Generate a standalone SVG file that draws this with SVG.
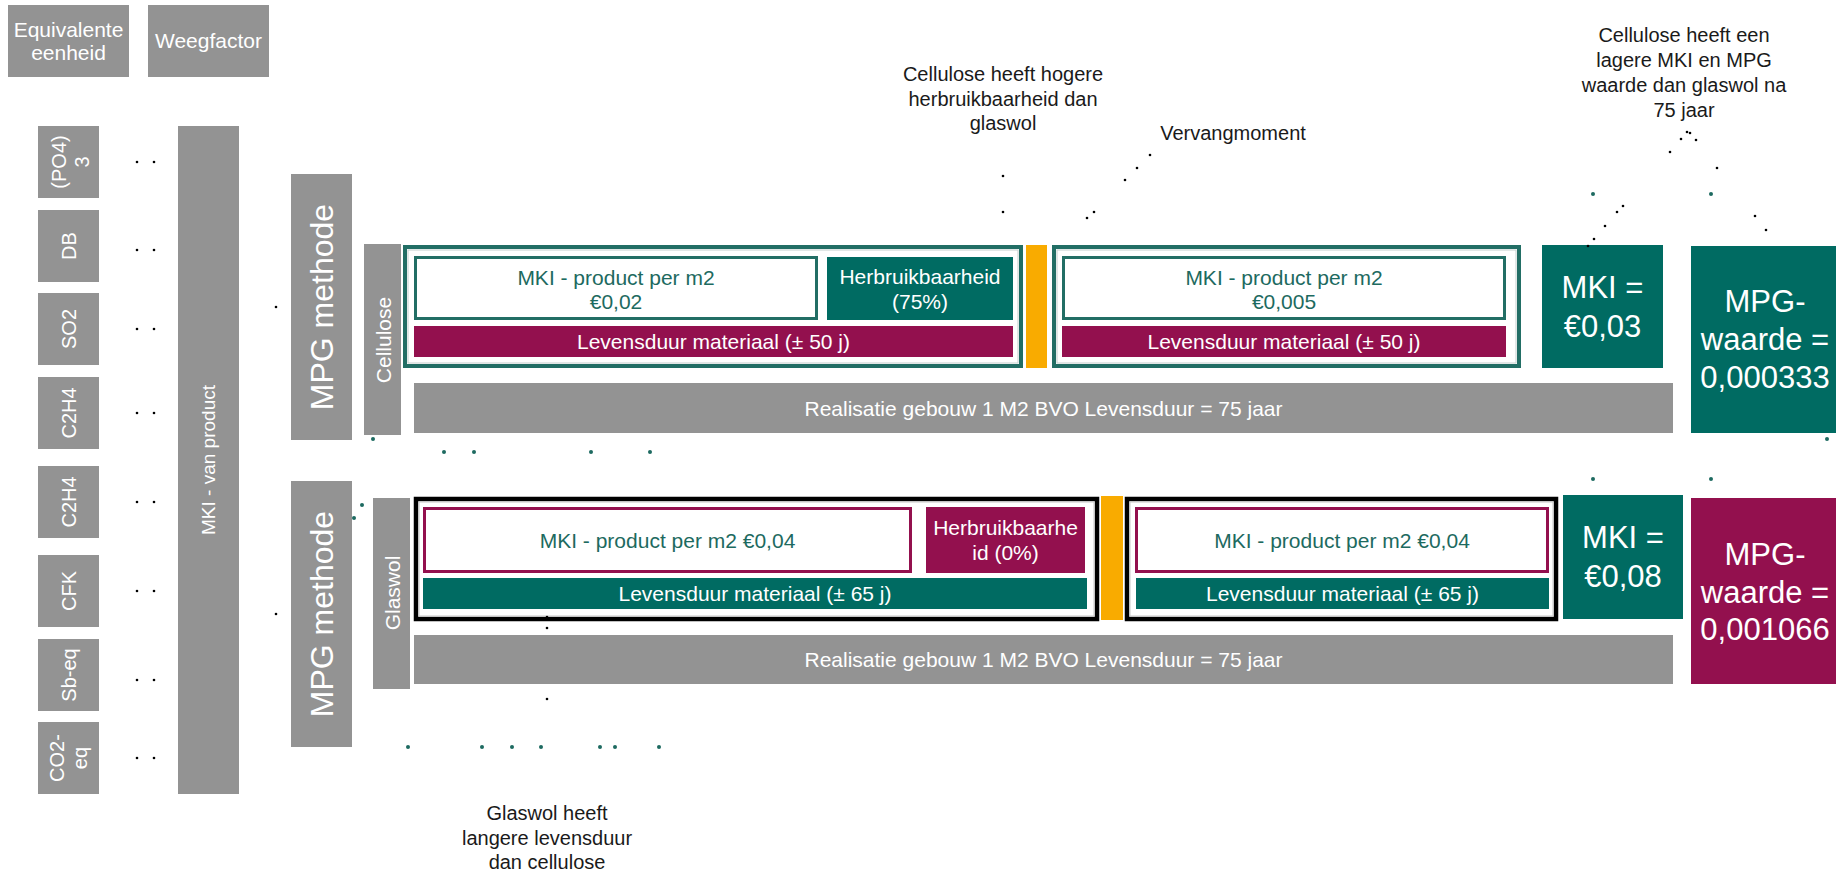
<svg xmlns="http://www.w3.org/2000/svg" width="1836" height="874" viewBox="0 0 1836 874">
<style>
.g{fill:#939393}
.teal{fill:#006b62}
.purp{fill:#93104e}
.org{fill:#f9ab00}
text{font-family:"Liberation Sans",Arial,sans-serif;text-anchor:middle}
.w{fill:#fff;font-size:21px}
.w20{fill:#fff;font-size:20px}
.wb{fill:#fff;font-size:31px}
.wm{fill:#fff;font-size:32px}
.tt{fill:#1d6a60;font-size:21px}
.bt{fill:#1a1a1a;font-size:20px}
.ft{fill:none;stroke:#226e65;stroke-width:4}
.fb{fill:none;stroke:#000;stroke-width:4.5}
.fin{fill:none;stroke:#c4cfcd;stroke-width:1}
.bt3{fill:#fff;stroke:#226e65;stroke-width:3}
.bp3{fill:#fff;stroke:#93104e;stroke-width:3}
.d{fill:#000}
.dt{fill:#1d6a60}
</style>
<rect width="1836" height="874" fill="#fff"/>

<g id="header-equivalente">
<rect class="g" x="8" y="5" width="121" height="72"/>
<text class="w" x="68.5" y="37">Equivalente</text>
<text class="w" x="68.5" y="60">eenheid</text>
</g>
<g id="header-weegfactor">
<rect class="g" x="148" y="5" width="121" height="72"/>
<text class="w" x="208.5" y="48">Weegfactor</text>
</g>

<g id="eq-po4">
<rect class="g" x="38" y="126" width="61" height="72"/>
<text class="w20" dominant-baseline="central" transform="translate(59,162) rotate(-90)">(PO4)</text>
<text class="w20" dominant-baseline="central" transform="translate(82,162) rotate(-90)">3</text>
</g>
<g id="eq-db">
<rect class="g" x="38" y="210" width="61" height="72"/>
<text class="w20" dominant-baseline="central" transform="translate(68.5,246) rotate(-90)">DB</text>
</g>
<g id="eq-so2">
<rect class="g" x="38" y="293" width="61" height="72"/>
<text class="w20" dominant-baseline="central" transform="translate(68.5,329) rotate(-90)">SO2</text>
</g>
<g id="eq-c2h4a">
<rect class="g" x="38" y="377" width="61" height="72"/>
<text class="w20" dominant-baseline="central" transform="translate(68.5,413) rotate(-90)">C2H4</text>
</g>
<g id="eq-c2h4b">
<rect class="g" x="38" y="466" width="61" height="72"/>
<text class="w20" dominant-baseline="central" transform="translate(68.5,502) rotate(-90)">C2H4</text>
</g>
<g id="eq-cfk">
<rect class="g" x="38" y="555" width="61" height="72"/>
<text class="w20" dominant-baseline="central" transform="translate(68.5,591) rotate(-90)">CFK</text>
</g>
<g id="eq-sb">
<rect class="g" x="38" y="639" width="61" height="72"/>
<text class="w20" dominant-baseline="central" transform="translate(68.5,675) rotate(-90)">Sb-eq</text>
</g>
<g id="eq-co2">
<rect class="g" x="38" y="722" width="61" height="72"/>
<text class="w20" dominant-baseline="central" transform="translate(57,758) rotate(-90)">CO2-</text>
<text class="w20" dominant-baseline="central" transform="translate(80,758) rotate(-90)">eq</text>
</g>

<g id="mki-van-product">
<rect class="g" x="178" y="126" width="61" height="668"/>
<text class="w20" font-size="19" dominant-baseline="central" transform="translate(208.5,460) rotate(-90)" style="font-size:19px">MKI - van product</text>
</g>

<g id="mpg-methode-1">
<rect class="g" x="291" y="174" width="61" height="266"/>
<text class="wm" dominant-baseline="central" transform="translate(322,307) rotate(-90)">MPG methode</text>
</g>
<g id="mpg-methode-2">
<rect class="g" x="291" y="481" width="61" height="266"/>
<text class="wm" dominant-baseline="central" transform="translate(322,614) rotate(-90)">MPG methode</text>
</g>

<g id="label-cellulose">
<rect class="g" x="364" y="244" width="37" height="191"/>
<text class="w" dominant-baseline="central" transform="translate(383,340) rotate(-90)">Cellulose</text>
</g>
<g id="label-glaswol">
<rect class="g" x="373" y="498" width="37" height="191"/>
<text class="w" dominant-baseline="central" transform="translate(392,593) rotate(-90)">Glaswol</text>
</g>

<g id="cellulose-fase1">
<rect class="ft" x="405" y="247" width="616" height="119"/>
<rect class="fin" x="408" y="250" width="610" height="113"/>
<rect class="bt3" x="415.5" y="257.5" width="401" height="61"/>
<text class="tt" x="616" y="285">MKI - product per m2</text>
<text class="tt" x="616" y="309">€0,02</text>
<rect class="teal" x="827" y="257" width="186" height="63"/>
<text class="w" x="920" y="284">Herbruikbaarheid</text>
<text class="w" x="920" y="309">(75%)</text>
<rect class="purp" x="414" y="326" width="599" height="31"/>
<text class="w" x="713.5" y="349">Levensduur materiaal (± 50 j)</text>
</g>
<g id="vervang-cellulose">
<rect class="org" x="1026" y="245" width="21" height="123"/>
</g>
<g id="cellulose-fase2">
<rect class="ft" x="1054" y="247" width="465" height="119"/>
<rect class="fin" x="1057" y="250" width="459" height="113"/>
<rect class="bt3" x="1063.5" y="257.5" width="441" height="61"/>
<text class="tt" x="1284" y="285">MKI - product per m2</text>
<text class="tt" x="1284" y="309">€0,005</text>
<rect class="purp" x="1062" y="326" width="444" height="31"/>
<text class="w" x="1284" y="349">Levensduur materiaal (± 50 j)</text>
</g>
<g id="realisatie-cellulose">
<rect class="g" x="414" y="383" width="1259" height="50"/>
<text class="w" x="1043.5" y="415.5">Realisatie gebouw 1 M2 BVO Levensduur = 75 jaar</text>
</g>
<g id="mki-cellulose">
<rect class="teal" x="1542" y="245" width="121" height="123"/>
<text class="wb" x="1602.5" y="298">MKI =</text>
<text class="wb" x="1602.5" y="337">€0,03</text>
</g>
<g id="mpg-cellulose">
<rect class="teal" x="1691" y="246" width="150" height="187"/>
<text class="wb" x="1765" y="312">MPG-</text>
<text class="wb" x="1765" y="350">waarde =</text>
<text class="wb" x="1765" y="388">0,000333</text>
</g>

<g id="glaswol-fase1">
<rect class="fb" x="416" y="499" width="681" height="120"/>
<rect class="fin" x="419" y="502" width="675" height="114" style="stroke:#c8c8c8"/>
<rect class="bp3" x="424.5" y="508.5" width="486" height="63"/>
<text class="tt" x="667.5" y="548">MKI - product per m2 €0,04</text>
<rect class="purp" x="926" y="507" width="159" height="66"/>
<text class="w" x="1005.5" y="535">Herbruikbaarhe</text>
<text class="w" x="1005.5" y="560">id (0%)</text>
<rect class="teal" x="423" y="578" width="664" height="31"/>
<text class="w" x="755" y="601">Levensduur materiaal (± 65 j)</text>
</g>
<g id="vervang-glaswol">
<rect class="org" x="1101" y="496" width="22" height="124"/>
</g>
<g id="glaswol-fase2">
<rect class="fb" x="1127" y="499" width="429" height="120"/>
<rect class="fin" x="1130" y="502" width="423" height="114" style="stroke:#c8c8c8"/>
<rect class="bp3" x="1136.5" y="508.5" width="411" height="63"/>
<text class="tt" x="1342" y="548">MKI - product per m2 €0,04</text>
<rect class="teal" x="1136" y="578" width="413" height="31"/>
<text class="w" x="1342.5" y="601">Levensduur materiaal (± 65 j)</text>
</g>
<g id="realisatie-glaswol">
<rect class="g" x="414" y="635" width="1259" height="49"/>
<text class="w" x="1043.5" y="667">Realisatie gebouw 1 M2 BVO Levensduur = 75 jaar</text>
</g>
<g id="mki-glaswol">
<rect class="teal" x="1563" y="495" width="120" height="124"/>
<text class="wb" x="1623" y="548">MKI =</text>
<text class="wb" x="1623" y="587">€0,08</text>
</g>
<g id="mpg-glaswol">
<rect class="purp" x="1691" y="498" width="150" height="186"/>
<text class="wb" x="1765" y="565">MPG-</text>
<text class="wb" x="1765" y="603">waarde =</text>
<text class="wb" x="1765" y="640">0,001066</text>
</g>

<g id="note-herbruikbaarheid">
<text class="bt" x="1003" y="81">Cellulose heeft hogere</text>
<text class="bt" x="1003" y="106">herbruikbaarheid dan</text>
<text class="bt" x="1003" y="130">glaswol</text>
</g>
<g id="note-vervangmoment">
<text class="bt" x="1233" y="140">Vervangmoment</text>
</g>
<g id="note-conclusie">
<text class="bt" x="1684" y="42">Cellulose heeft een</text>
<text class="bt" x="1684" y="67">lagere MKI en MPG</text>
<text class="bt" x="1684" y="92">waarde dan glaswol na</text>
<text class="bt" x="1684" y="117">75 jaar</text>
</g>
<g id="note-levensduur">
<text class="bt" x="547" y="820">Glaswol heeft</text>
<text class="bt" x="547" y="845">langere levensduur</text>
<text class="bt" x="547" y="869">dan cellulose</text>
</g>

<g id="connectors">
<circle class="d" cx="137" cy="162" r="1.3"/><circle class="d" cx="154" cy="162" r="1.3"/>
<circle class="d" cx="137" cy="250" r="1.3"/><circle class="d" cx="154" cy="250" r="1.3"/>
<circle class="d" cx="137" cy="329" r="1.3"/><circle class="d" cx="154" cy="329" r="1.3"/>
<circle class="d" cx="137" cy="413" r="1.3"/><circle class="d" cx="154" cy="413" r="1.3"/>
<circle class="d" cx="137" cy="502" r="1.3"/><circle class="d" cx="154" cy="502" r="1.3"/>
<circle class="d" cx="137" cy="591" r="1.3"/><circle class="d" cx="154" cy="591" r="1.3"/>
<circle class="d" cx="137" cy="680" r="1.3"/><circle class="d" cx="154" cy="680" r="1.3"/>
<circle class="d" cx="137" cy="758" r="1.3"/><circle class="d" cx="154" cy="758" r="1.3"/>
<circle class="d" cx="276" cy="307" r="1.3"/><circle class="d" cx="276" cy="614" r="1.3"/>
<circle class="d" cx="1003" cy="176" r="1.3"/><circle class="d" cx="1003" cy="212" r="1.3"/>
<circle class="d" cx="1150" cy="155" r="1.3"/><circle class="d" cx="1137" cy="168" r="1.3"/><circle class="d" cx="1125" cy="180" r="1.3"/>
<circle class="d" cx="1094" cy="212" r="1.3"/><circle class="d" cx="1087" cy="218" r="1.3"/>
<circle class="d" cx="1687" cy="132" r="1.3"/><circle class="d" cx="1690" cy="133" r="1.3"/><circle class="d" cx="1681" cy="139" r="1.3"/><circle class="d" cx="1696" cy="140" r="1.3"/>
<circle class="d" cx="1670" cy="152" r="1.3"/><circle class="d" cx="1717" cy="168" r="1.3"/>
<circle class="d" cx="1623" cy="206" r="1.3"/><circle class="d" cx="1617" cy="212" r="1.3"/><circle class="d" cx="1605" cy="226" r="1.3"/><circle class="d" cx="1594" cy="239" r="1.3"/><circle class="d" cx="1588" cy="246" r="1.3"/>
<circle class="d" cx="1755" cy="216" r="1.3"/><circle class="d" cx="1766" cy="230" r="1.3"/>
<circle class="d" cx="547" cy="617" r="1.3"/><circle class="d" cx="547" cy="628" r="1.3"/><circle class="d" cx="547" cy="699" r="1.3"/>
<circle class="dt" cx="1593" cy="194" r="2"/><circle class="dt" cx="1711" cy="194" r="2"/>
<circle class="dt" cx="1593" cy="479" r="2"/><circle class="dt" cx="1711" cy="479" r="2"/>
<circle class="dt" cx="1827" cy="439" r="2"/>
<circle class="dt" cx="373" cy="439" r="2"/>
<circle class="dt" cx="444" cy="452" r="2"/><circle class="dt" cx="474" cy="452" r="2"/><circle class="dt" cx="591" cy="452" r="2"/><circle class="dt" cx="650" cy="452" r="2"/>
<circle class="dt" cx="362" cy="505" r="2"/><circle class="dt" cx="354" cy="518" r="2"/>
<circle class="dt" cx="408" cy="747" r="2"/><circle class="dt" cx="482" cy="747" r="2"/><circle class="dt" cx="512" cy="747" r="2"/><circle class="dt" cx="541" cy="747" r="2"/>
<circle class="dt" cx="600" cy="747" r="2"/><circle class="dt" cx="615" cy="747" r="2"/><circle class="dt" cx="659" cy="747" r="2"/>
</g>
</svg>
